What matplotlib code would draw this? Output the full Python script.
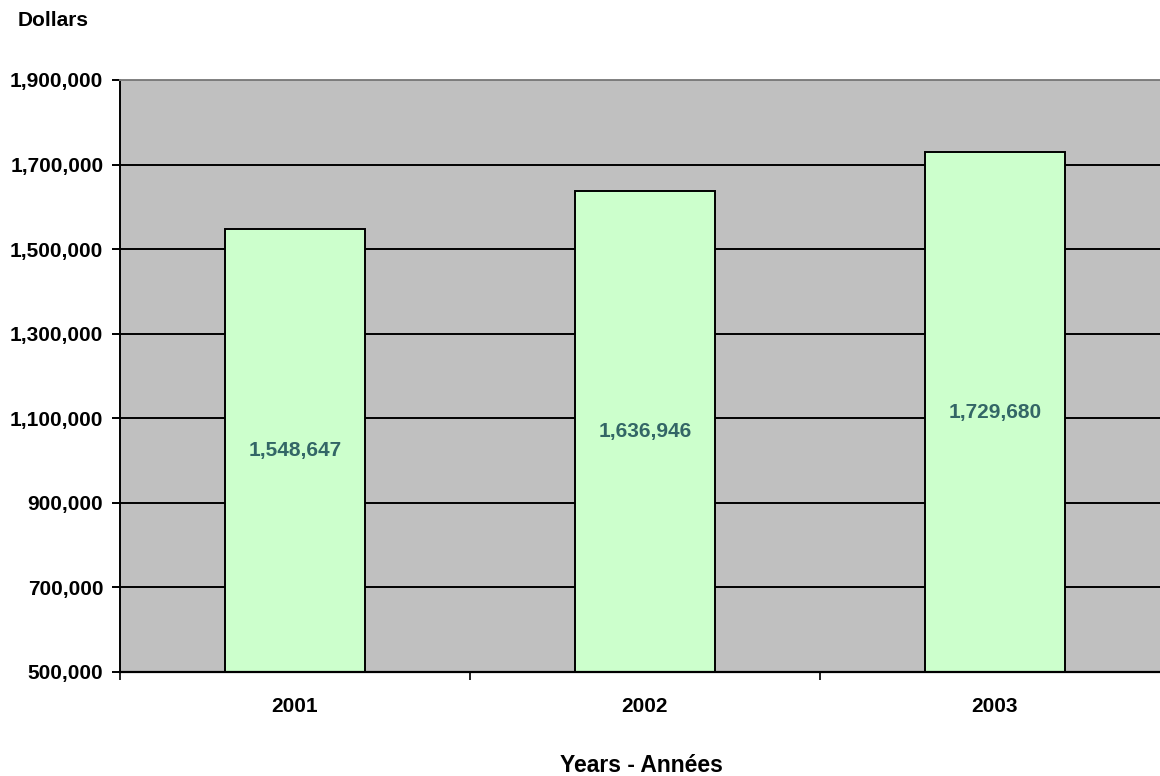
"""
Dollars per year bar chart, 2001-2003.
"""
import numpy as np
import matplotlib.pyplot as plt
from matplotlib.ticker import FuncFormatter

plt.rcParams['font.family'] = ['Liberation Sans', 'DejaVu Sans']

# data
years = ['2001', '2002', '2003']
dollars = [1548647, 1636946, 1729680]
y_ticks = [500000, 700000, 900000, 1100000, 1300000, 1500000, 1700000, 1900000]

fig = plt.figure(figsize=(11.6, 7.76), dpi=100)
ax = fig.add_axes([120/1160, 104/776, 1050/1160, 592/776])
ax.set_facecolor('#C0C0C0')

x = np.arange(len(years))
ax.set_axisbelow(True)
ax.yaxis.grid(True, color='black', linewidth=1.4)
ax.bar(x, dollars, width=0.4, bottom=0, color='#CCFFCC', edgecolor='black', linewidth=1.4)

# value labels in the middle of each bar
for xi, v in zip(x, dollars):
    ax.text(xi, (y_ticks[0] + v) / 2, f'{v:,}', ha='center', va='center',
            fontsize=15, fontweight='bold', color='#336666')

ax.set_xlim(-0.5, 2.5)
ax.set_ylim(y_ticks[0], y_ticks[-1])
ax.set_yticks(y_ticks)
ax.yaxis.set_major_formatter(FuncFormatter(lambda v, p: f'{int(v):,}'))
ax.set_xticks(x)
ax.set_xticklabels(years)
ax.set_xticks([-0.5, 0.5, 1.5], minor=True)

ax.tick_params(axis='x', which='major', length=0, pad=18, labelsize=15)
ax.tick_params(axis='x', which='minor', length=6, width=1.2, direction='out')
ax.tick_params(axis='y', length=6, width=1.4, direction='out', pad=6, labelsize=15)
for lbl in ax.get_xticklabels() + ax.get_yticklabels():
    lbl.set_fontweight('bold')

ax.spines['left'].set_linewidth(1.4)
ax.spines['bottom'].set_linewidth(1.6)
ax.spines['top'].set_color('#808080')
ax.spines['top'].set_linewidth(1.4)
ax.spines['right'].set_visible(False)

fig.text(18/1160, 1 - 20/776, 'Dollars', ha='left', va='center',
         fontsize=15, fontweight='bold')
fig.text(641/1160, 1 - 765/776, 'Years - Années', ha='center', va='center',
         fontsize=16.5, fontweight='bold')

plt.savefig('out.png', dpi=100)
